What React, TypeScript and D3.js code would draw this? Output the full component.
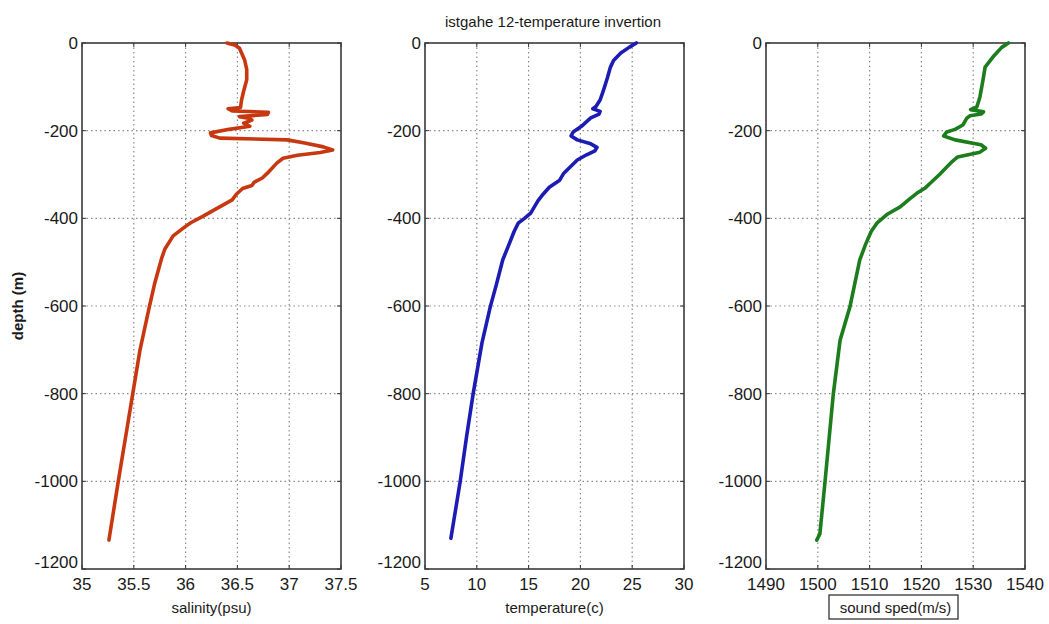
import React from "react";
import * as d3 from "d3";

// depth (m) and profile values
const salinityDepth = [0, -5, -12, -39, -60, -84, -110, -130, -147, -150, -155, -158, -163, -168, -172, -176, -183, -190, -197, -205, -211, -217, -221, -228, -237, -244, -250, -256, -263, -274, -297, -308, -318, -325, -332, -345, -358, -375, -395, -410, -420, -440, -470, -490, -550, -602, -700, -800, -900, -1000, -1134];
const salinity = [36.4, 36.48, 36.52, 36.57, 36.59, 36.59, 36.56, 36.54, 36.53, 36.41, 36.45, 36.8, 36.79, 36.52, 36.62, 36.64, 36.56, 36.62, 36.42, 36.24, 36.25, 36.33, 36.98, 37.15, 37.33, 37.42, 37.3, 37.08, 36.94, 36.88, 36.79, 36.74, 36.66, 36.64, 36.55, 36.49, 36.45, 36.32, 36.17, 36.05, 35.99, 35.88, 35.8, 35.77, 35.7, 35.65, 35.56, 35.49, 35.42, 35.35, 35.26];

const tempDepth = [0, -10, -23, -40, -55, -80, -110, -130, -145, -150, -156, -162, -171, -190, -203, -212, -221, -230, -238, -246, -255, -267, -297, -313, -329, -345, -360, -388, -400, -411, -430, -460, -495, -550, -602, -684, -800, -900, -1000, -1130];
const temperature = [25.4, 24.7, 23.9, 23.2, 22.9, 22.6, 22.2, 21.9, 21.5, 21.2, 21.9, 21.8, 21.0, 20.1, 19.3, 19.1, 19.7, 21.0, 21.6, 21.4, 20.6, 19.7, 18.4, 18.0, 17.0, 16.4, 15.9, 15.2, 14.6, 14.0, 13.6, 13.1, 12.5, 11.9, 11.3, 10.5, 9.65, 9.0, 8.4, 7.5];

const soundDepth = [0, -10, -32, -55, -84, -123, -146, -152, -157, -162, -166, -171, -187, -197, -203, -212, -221, -232, -240, -249, -260, -270, -283, -300, -320, -330, -343, -355, -374, -390, -411, -430, -460, -495, -602, -678, -800, -1000, -1120, -1134];
const soundSpeed = [1536.8, 1535.5, 1533.8, 1532.3, 1531.9, 1531.3, 1530.7, 1529.5, 1532.0, 1531.5, 1529.4, 1528.8, 1528.0, 1526.5, 1524.9, 1524.3, 1526.5, 1531.5, 1532.4, 1531.3, 1527.0, 1526.0, 1524.9, 1523.5, 1521.7, 1520.8, 1519.1, 1517.8, 1515.9, 1513.5, 1511.4, 1510.3, 1509.2, 1508.1, 1506.2, 1504.3, 1503.0, 1501.4, 1500.4, 1499.8];

const depthTicks = [0, -200, -400, -600, -800, -1000, -1200];
const salinityTicks = [35, 35.5, 36, 36.5, 37, 37.5];
const tempTicks = [5, 10, 15, 20, 25, 30];
const soundTicks = [1490, 1500, 1510, 1520, 1530, 1540];

const title = "istgahe 12-temperature invertion";
const yLabel = "depth (m)";

const top = 43;
const bottom = 569;
const panelW = 259;
const font = "'Liberation Sans', Arial, sans-serif";

const panels = [
  { left: 82, domain: [35, 37.5], ticks: salinityTicks, depth: salinityDepth, values: salinity, color: "#c83810", label: "salinity(psu)", boxed: false },
  { left: 425, domain: [5, 30], ticks: tempTicks, depth: tempDepth, values: temperature, color: "#1c1cb4", label: "temperature(c)", boxed: false },
  { left: 766, domain: [1490, 1540], ticks: soundTicks, depth: soundDepth, values: soundSpeed, color: "#1b7d1b", label: "sound sped(m/s)", boxed: true },
];

const yScale = d3.scaleLinear().domain([0, -1200]).range([top, bottom]);

function Panel({ p }: { p: (typeof panels)[number] }) {
  const x = d3.scaleLinear().domain(p.domain).range([p.left, p.left + panelW]);
  const line = d3
    .line<number>()
    .x((v) => x(v))
    .y((_, i) => yScale(p.depth[i]));
  const cx = p.left + panelW / 2;
  return (
    <g>
      {/* grid */}
      {p.ticks.slice(1, -1).map((t) => (
        <line key={"gx" + t} x1={x(t)} x2={x(t)} y1={top} y2={bottom} stroke="#8a8a8a" strokeWidth={1.2} strokeDasharray="1.5,3" />
      ))}
      {depthTicks.slice(1, -1).map((t) => (
        <line key={"gy" + t} x1={p.left} x2={p.left + panelW} y1={yScale(t)} y2={yScale(t)} stroke="#8a8a8a" strokeWidth={1.2} strokeDasharray="1.5,3" />
      ))}
      {/* tick marks */}
      {p.ticks.map((t) => (
        <g key={"tx" + t}>
          <line x1={x(t)} x2={x(t)} y1={bottom} y2={bottom - 4} stroke="#333" />
          <line x1={x(t)} x2={x(t)} y1={top} y2={top + 4} stroke="#333" />
        </g>
      ))}
      {depthTicks.map((t) => (
        <g key={"ty" + t}>
          <line x1={p.left} x2={p.left + 4} y1={yScale(t)} y2={yScale(t)} stroke="#333" />
          <line x1={p.left + panelW} x2={p.left + panelW - 4} y1={yScale(t)} y2={yScale(t)} stroke="#333" />
        </g>
      ))}
      <rect x={p.left} y={top} width={panelW} height={bottom - top} fill="none" stroke="#3a3a3a" strokeWidth={1.6} />
      {/* profile */}
      <path d={line(p.values) || ""} fill="none" stroke={p.color} strokeWidth={3.6} strokeLinejoin="round" strokeLinecap="round" />
      {/* tick labels */}
      {p.ticks.map((t) => (
        <text key={"lx" + t} x={x(t)} y={590} textAnchor="middle" fontSize={17} fontFamily={font} fill="#1a1a1a">
          {t}
        </text>
      ))}
      {depthTicks.map((t) => (
        <text key={"ly" + t} x={p.left - 4} y={t === -1200 ? yScale(t) - 1 : yScale(t) + 6} textAnchor="end" fontSize={17} fontFamily={font} fill="#1a1a1a">
          {t}
        </text>
      ))}
      {p.boxed && <rect x={829} y={595} width={129} height={24} fill="none" stroke="#333" strokeWidth={1.3} />}
      <text x={cx} y={613} textAnchor="middle" fontSize={15} fontFamily={font} fill="#1a1a1a">
        {p.label}
      </text>
    </g>
  );
}

export default function App() {
  return (
    <svg width={1049} height={624} style={{ position: "absolute", left: 0, top: 0, background: "#fff" }}>
      <rect width={1049} height={624} fill="#fff" />
      {panels.map((p) => (
        <Panel key={p.label} p={p} />
      ))}
      <text x={553} y={27} textAnchor="middle" fontSize={15} fontFamily={font} fill="#1a1a1a">
        {title}
      </text>
      <text transform="translate(23,306) rotate(-90)" textAnchor="middle" fontSize={15} fontWeight="bold" fontFamily={font} fill="#1a1a1a">
        {yLabel}
      </text>
    </svg>
  );
}
